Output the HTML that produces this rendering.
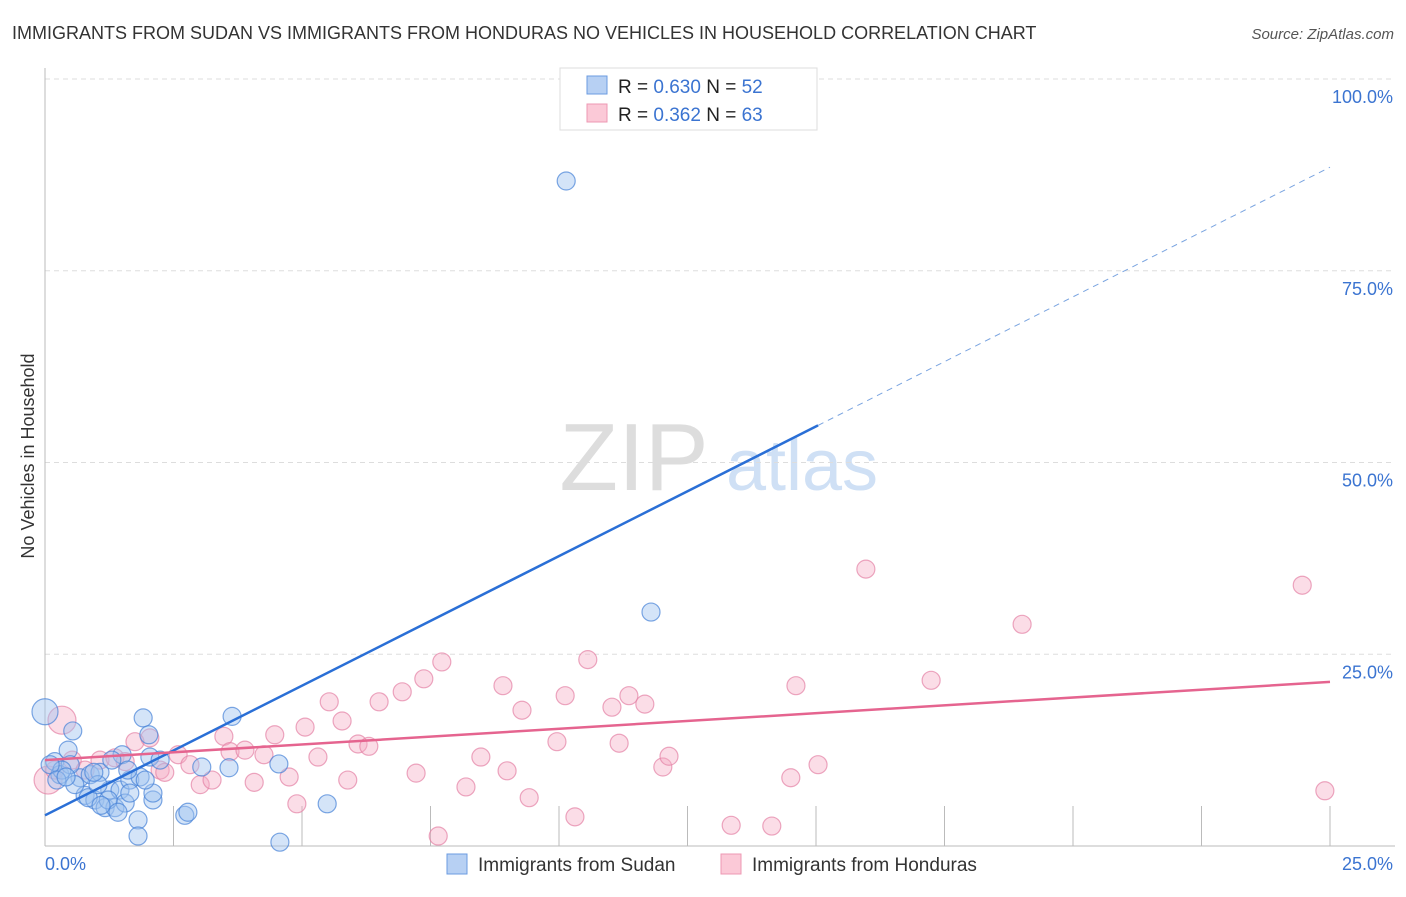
<!DOCTYPE html>
<html><head><meta charset="utf-8"><style>
body{margin:0;background:#fff;font-family:"Liberation Sans",sans-serif;}
svg text{font-family:"Liberation Sans",sans-serif;}
</style></head><body>
<svg id="chart" width="1406" height="892" viewBox="0 0 1406 892" xmlns="http://www.w3.org/2000/svg">
<text x="12" y="39" font-size="18" fill="#333">IMMIGRANTS FROM SUDAN VS IMMIGRANTS FROM HONDURAS NO VEHICLES IN HOUSEHOLD CORRELATION CHART</text>
<text x="1394" y="39" font-size="15" fill="#555" text-anchor="end" font-style="italic">Source: ZipAtlas.com</text>
<g>
<text x="634" y="490" font-size="96" fill="#ddd" font-family="Liberation Serif,serif" text-anchor="middle">ZIP</text>
<text x="802" y="490" font-size="72" fill="#cfe0f5" text-anchor="middle">atlas</text>
</g>
<g id="grid"></g>
<g id="axes"></g>
<g id="marks"></g>
<text transform="translate(34,456) rotate(-90)" font-size="18" fill="#333" text-anchor="middle">No Vehicles in Household</text>
<g>
<rect x="560" y="68" width="257" height="62" fill="#fff" stroke="#ddd"/>
<rect x="587" y="76" width="20" height="18" fill="#b7d0f3" stroke="#6b9be0"/>
<rect x="587" y="104" width="20" height="18" fill="#fbc9d7" stroke="#ee98b3"/>
<text x="618" y="93" font-size="19" fill="#222">R = <tspan fill="#3b74d1">0.630</tspan>   N = <tspan fill="#3b74d1">52</tspan></text>
<text x="618" y="121" font-size="19" fill="#222">R =  <tspan fill="#3b74d1">0.362</tspan>   N = <tspan fill="#3b74d1">63</tspan></text>
</g>
<g>
<rect x="447" y="854" width="20" height="20" fill="#b7d0f3" stroke="#6b9be0"/>
<text x="478" y="871" font-size="19" fill="#333">Immigrants from Sudan</text>
<rect x="721" y="854" width="20" height="20" fill="#fbc9d7" stroke="#ee98b3"/>
<text x="752" y="871" font-size="19" fill="#333">Immigrants from Honduras</text>
</g>
</svg>
<script>
const yTicks=[25,50,75,100];
const yTickLabels=["25.0%","50.0%","75.0%","100.0%"];
const xTicks=[2.5,5,7.5,10,12.5,15,17.5,20,22.5,25];
const sudanX=[0,0.54,0.19,0.45,0.29,0.68,0.88,1.07,0.78,0.97,1.26,1.46,1.65,1.17,1.36,1.56,1.85,2.04,1.91,2.02,1.50,2.24,2.10,2.10,1.81,1.81,2.72,2.78,3.05,3.58,3.64,4.55,4.57,5.49,10.14,11.79,0.49,0.58,0.84,1.03,1.23,1.65,0.33,0.10,1.30,1.61,0.23,0.41,0.95,1.09,1.42,1.95];
const sudanY=[17.5,15.0,11.0,12.5,9.3,8.9,9.3,9.6,6.6,6.0,7.3,7.3,8.6,5.0,5.0,5.6,9.0,11.6,16.7,14.5,11.9,11.2,6.0,6.9,3.4,1.3,4.0,4.4,10.3,10.2,16.9,10.7,0.5,5.5,86.7,30.5,10.6,8.0,6.3,8.0,6.0,6.9,9.9,10.6,11.2,9.9,8.6,9.0,9.6,5.3,4.4,8.6];
const hondX=[0.06,0.33,0.53,0.78,1.07,1.36,1.56,1.75,2.04,2.24,2.33,2.59,2.82,3.02,3.25,3.48,3.60,3.89,4.07,4.26,4.47,4.75,4.90,5.06,5.31,5.53,5.78,5.89,6.09,6.30,6.50,6.95,7.22,7.37,7.65,7.72,8.19,8.48,8.91,8.99,9.28,9.42,9.96,10.12,10.31,10.56,11.03,11.17,11.36,11.67,12.02,12.14,13.35,14.14,14.51,14.61,15.04,15.97,17.24,19.01,24.46,24.9,0.19];
const hondY=[8.6,16.4,11.2,9.9,11.2,11.5,11.0,13.6,14.1,9.9,9.6,11.9,10.6,8.0,8.6,14.3,12.3,12.5,8.3,11.9,14.5,9.0,5.5,15.5,11.6,18.8,16.3,8.6,13.3,13.0,18.8,20.1,9.5,21.8,1.3,24.0,7.7,11.6,20.9,9.8,17.7,6.3,13.6,19.6,3.8,24.3,18.1,13.4,19.6,18.5,10.3,11.7,2.7,2.6,8.9,20.9,10.6,36.1,21.6,28.9,34.0,7.2,9.9];
const sudanTrend=[4.0,3.38];   // intercept, slope
const hondTrend=[11.2,0.408];
const X=v=>45+v*51.4, Y=v=>846-v*7.67;
const NS="http://www.w3.org/2000/svg";
function mk(p,t,a){const e=document.createElementNS(NS,t);for(const k in a)e.setAttribute(k,a[k]);p.appendChild(e);return e;}
const grid=document.getElementById('grid'),axes=document.getElementById('axes'),marks=document.getElementById('marks');
yTicks.forEach((t,i)=>{
 const l=mk(grid,'line',{x1:45,x2:1395,y1:Y(t),y2:Y(t),stroke:'#ddd','stroke-dasharray':'5,4'});
 
 
 const tx=mk(grid,'text',{x:1393,y:Y(t)+24,'font-size':18,fill:'#3b74d1','text-anchor':'end'});
 tx.textContent=yTickLabels[i];
 
 
});
let a=mk(axes,'line',{x1:45,x2:45,y1:68,y2:846,stroke:'#bbb'});


a=mk(axes,'line',{x1:45,x2:1395,y1:846,y2:846,stroke:'#bbb'});


xTicks.forEach(t=>{
 const l=mk(axes,'line',{x1:X(t),x2:X(t),y1:806,y2:846,stroke:'#bbb'});
 
 
});
let t0=mk(axes,'text',{x:45,y:870,'font-size':18,fill:'#3b74d1'});t0.textContent='0.0%';


let t1=mk(axes,'text',{x:1393,y:870,'font-size':18,fill:'#3b74d1','text-anchor':'end'});t1.textContent='25.0%';


hondX.forEach((x,i)=>{
 const r=(i<2)?14:9;
 const c=mk(marks,'circle',{cx:X(x),cy:Y(hondY[i]),r:r,fill:'rgba(245,170,195,0.4)',stroke:'rgba(228,130,165,0.7)','stroke-width':1.2});
 
 
});
sudanX.forEach((x,i)=>{
 const r=(i===0)?13:9;
 const c=mk(marks,'circle',{cx:X(x),cy:Y(sudanY[i]),r:r,fill:'rgba(160,195,240,0.45)',stroke:'rgba(70,130,215,0.7)','stroke-width':1.2});
 
 
});
const sx=Math.max(...sudanX)+3.25;
let l=mk(marks,'line',{x1:X(0),y1:Y(sudanTrend[0]),x2:X(sx),y2:Y(sudanTrend[0]+sudanTrend[1]*sx),stroke:'#2a6fd6','stroke-width':2.5});


l=mk(marks,'line',{x1:X(sx),y1:Y(sudanTrend[0]+sudanTrend[1]*sx),x2:X(25),y2:Y(sudanTrend[0]+sudanTrend[1]*25),stroke:'#7aa4e0','stroke-width':1,'stroke-dasharray':'6,5'});


l=mk(marks,'line',{x1:X(0),y1:Y(hondTrend[0]),x2:X(25),y2:Y(hondTrend[0]+hondTrend[1]*25),stroke:'#e5648f','stroke-width':2.5});


</script>
</body></html>
